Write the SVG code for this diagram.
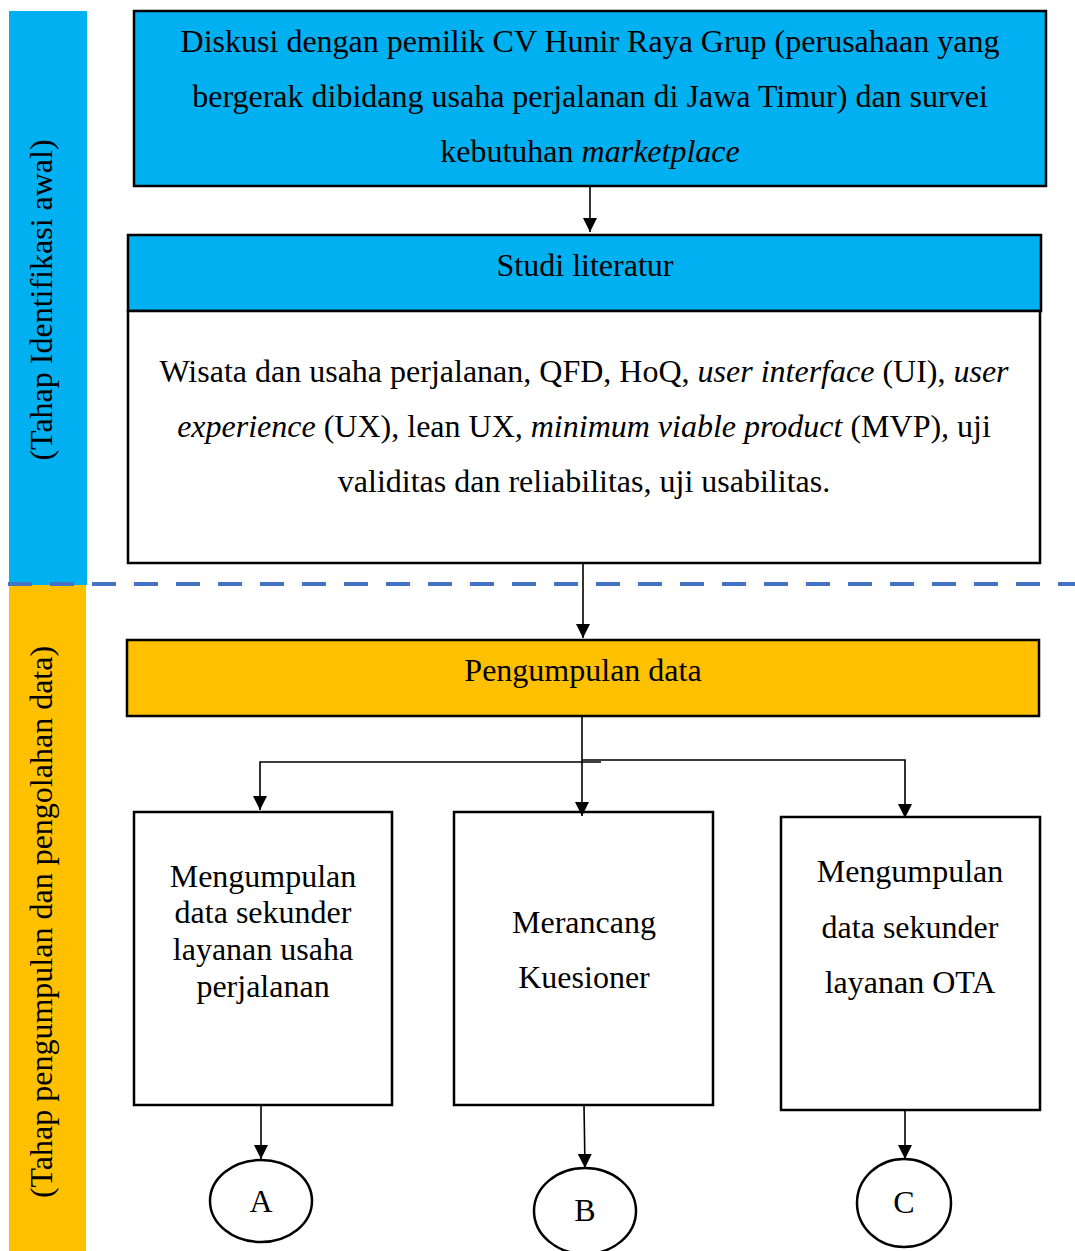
<svg xmlns="http://www.w3.org/2000/svg" width="1075" height="1251" viewBox="0 0 1075 1251">
<defs>
<marker id="arr" markerWidth="14" markerHeight="14" refX="14" refY="7" orient="auto" markerUnits="userSpaceOnUse"><path d="M0,0 L14,7 L0,14 Z" fill="#000"/></marker>
</defs>
<style>
text{font-family:"Liberation Serif","Times New Roman",serif;font-size:32px;fill:#000;text-anchor:middle}
.box{stroke:#000;stroke-width:2.5}
.blue{fill:#00B0F0}
.orange{fill:#FFC000}
.white{fill:#fff}
.con{fill:none;stroke:#000;stroke-width:1.6}
</style>
<rect x="9" y="11" width="78" height="574" fill="#00B0F0"/>
<rect x="9" y="585" width="77" height="666" fill="#FFC000"/>
<text transform="translate(52 300) rotate(-90)">(Tahap Identifikasi awal)</text>
<text transform="translate(52 922) rotate(-90)">(Tahap pengumpulan dan pengolahan data)</text>
<line x1="8" y1="584" x2="1075" y2="584" stroke="#4472C4" stroke-width="4" stroke-dasharray="24 18"/>
<g id="n1"><rect class="box blue" x="134" y="11" width="912" height="175"/>
<text x="590" y="52">Diskusi dengan pemilik CV Hunir Raya Grup (perusahaan yang</text>
<text x="590" y="107">bergerak dibidang usaha perjalanan di Jawa Timur) dan survei</text>
<text x="590" y="162">kebutuhan <tspan font-style="italic">marketplace</tspan></text></g>
<g id="n2"><rect class="box blue" x="128" y="235" width="913" height="76"/>
<text x="585" y="276">Studi literatur</text>
<rect class="box white" x="128" y="311" width="912" height="252"/>
<text x="584" y="382">Wisata dan usaha perjalanan, QFD, HoQ, <tspan font-style="italic">user interface</tspan> (UI), <tspan font-style="italic">user</tspan></text>
<text x="584" y="437"><tspan font-style="italic">experience</tspan> (UX), lean UX<tspan font-style="italic">, minimum viable product</tspan> (MVP)<tspan font-style="italic">,</tspan> uji</text>
<text x="584" y="492">validitas dan reliabilitas, uji usabilitas.</text></g>
<g id="n3"><rect class="box orange" x="127" y="640" width="912" height="76"/>
<text x="583" y="681">Pengumpulan data</text></g>
<g id="n4"><rect class="box white" x="134" y="812" width="258" height="293"/>
<text x="263" y="887">Mengumpulan</text>
<text x="263" y="923">data sekunder</text>
<text x="263" y="960">layanan usaha</text>
<text x="263" y="997">perjalanan</text></g>
<g id="n5"><rect class="box white" x="454" y="812" width="259" height="293"/>
<text x="584" y="933">Merancang</text>
<text x="584" y="988">Kuesioner</text></g>
<g id="n6"><rect class="box white" x="781" y="817" width="259" height="293"/>
<text x="910" y="882">Mengumpulan</text>
<text x="910" y="938">data sekunder</text>
<text x="910" y="993">layanan OTA</text></g>
<g id="nA"><ellipse class="box white" cx="261" cy="1201" rx="51" ry="41"/><text x="261" y="1212">A</text></g>
<g id="nB"><ellipse class="box white" cx="585" cy="1211" rx="51" ry="43"/><text x="585" y="1221">B</text></g>
<g id="nC"><ellipse class="box white" cx="904" cy="1203" rx="47" ry="44"/><text x="904" y="1213">C</text></g>
<g id="connectors">
<line class="con" x1="590" y1="186" x2="590" y2="232" marker-end="url(#arr)"/>
<line class="con" x1="583" y1="563" x2="583" y2="638" marker-end="url(#arr)"/>
<line class="con" x1="582" y1="716" x2="582" y2="816" marker-end="url(#arr)"/>
<polyline class="con" points="601,762 260,762 260,810" marker-end="url(#arr)"/>
<polyline class="con" points="582,760 905,760 905,818" marker-end="url(#arr)"/>
<line class="con" x1="261" y1="1105" x2="261" y2="1159" marker-end="url(#arr)"/>
<line class="con" x1="584" y1="1105" x2="585" y2="1168" marker-end="url(#arr)"/>
<line class="con" x1="905" y1="1110" x2="905" y2="1159" marker-end="url(#arr)"/>
</g>
</svg>
